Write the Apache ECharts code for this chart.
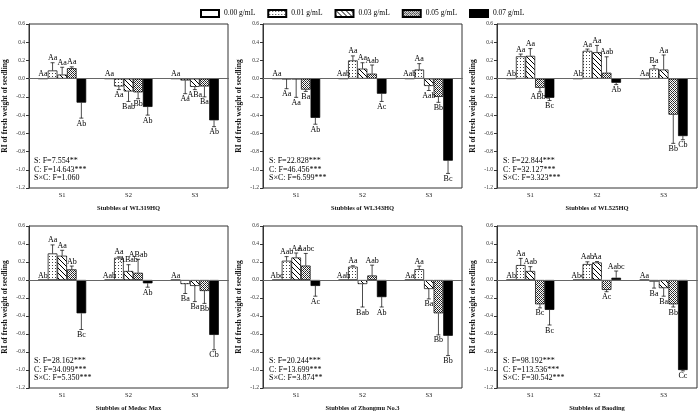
<!DOCTYPE html>
<html><head><meta charset="utf-8">
<script src="https://cdn.jsdelivr.net/npm/echarts@6/dist/echarts.min.js"></script>
<style>html,body{margin:0;padding:0;background:#fff}#c{width:700px;height:414px}</style>
</head><body><div id="c"></div>
<script>
// ---------------- data ----------------
const concentrations = ['0.00 g/mL', '0.01 g/mL', '0.03 g/mL', '0.05 g/mL', '0.07 g/mL'];
const stubbleCats = ['S1', 'S2', 'S3'];
const panelTitles = ['Stubbles of WL319HQ', 'Stubbles of WL343HQ', 'Stubbles of WL525HQ',
  'Stubbles of Medoc Max', 'Stubbles of Zhongmu No.3', 'Stubbles of Baoding'];
const yAxisTitle = 'RI of fresh weight of seedling';

// rows = S1,S2,S3 ; columns = 0.00,0.01,0.03,0.05,0.07 g/mL
const wl319Mean = [[0, 0.09, 0.045, 0.115, -0.263], [0, -0.085, -0.14, -0.15, -0.31], [0, -0.02, -0.09, -0.085, -0.457]];
const wl319Err = [[0, 0.085, 0.08, 0.015, 0.17], [0, 0.035, 0.11, 0.07, 0.09], [0, 0.145, 0.03, 0.115, 0.07]];
const wl319Letters = [['Aa', 'Aa', 'Aa', 'Aa', 'Ab'], ['Aa', 'Aa', 'Bab', 'Bb', 'Ab'], ['Aa', 'Aa', 'ABa', 'Ba', 'Ab']];
const wl319Stats = ['S: F=7.554**', 'C: F=14.643***', 'S×C: F=1.060'];

const wl343Mean = [[0, -0.005, -0.005, -0.12, -0.43], [0, 0.2, 0.11, 0.055, -0.165], [0, 0.1, -0.08, -0.2, -0.9]];
const wl343Err = [[0, 0.105, 0.2, 0.02, 0.07], [0, 0.05, 0.065, 0.095, 0.085], [0, 0.065, 0.05, 0.06, 0.14]];
const wl343Letters = [['Aa', 'Aa', 'Aa', 'Ba', 'Ab'], ['Aab', 'Aa', 'Aa', 'Aab', 'Ac'], ['Aab', 'Aa', 'Aab', 'Bb', 'Bc']];
const wl343Stats = ['S: F=22.828***', 'C: F=46.456***', 'S×C: F=6.599***'];

const wl525Mean = [[0, 0.245, 0.25, -0.1, -0.21], [0, 0.305, 0.29, 0.065, -0.045], [0, 0.11, 0.1, -0.395, -0.63]];
const wl525Err = [[0, 0.025, 0.08, 0.045, 0.03], [0, 0.02, 0.075, 0.175, 0.02], [0, 0.035, 0.16, 0.315, 0.04]];
const wl525Letters = [['Ab', 'Aa', 'Aa', 'ABbc', 'Bc'], ['Ab', 'Aa', 'Aa', 'Aab', 'Ab'], ['Aa', 'Ba', 'Aa', 'Bb', 'Cb']];
const wl525Stats = ['S: F=22.844***', 'C: F=32.127***', 'S×C: F=3.323***'];

const medocMean = [[0, 0.295, 0.27, 0.118, -0.37], [0, 0.247, 0.1, 0.08, -0.037], [0, -0.045, -0.066, -0.122, -0.61]];
const medocErr = [[0, 0.095, 0.06, 0.037, 0.18], [0, 0.01, 0.07, 0.15, 0.043], [0, 0.105, 0.174, 0.138, 0.165]];
const medocLetters = [['Ab', 'Aa', 'Aa', 'Ab', 'Bc'], ['Aab', 'Aa', 'ABab', 'ABab', 'Ab'], ['Aa', 'Ba', 'Ba', 'Bb', 'Cb']];
const medocStats = ['S: F=28.162***', 'C: F=34.099***', 'S×C: F=5.350***'];

const zhongmuMean = [[0, 0.214, 0.25, 0.16, -0.066], [0, 0.148, -0.045, 0.05, -0.19], [0, 0.12, -0.1, -0.37, -0.62]];
const zhongmuErr = [[0, 0.046, 0.05, 0.135, 0.114], [0, 0.01, 0.255, 0.115, 0.11], [0, 0.035, 0.11, 0.24, 0.22]];
const zhongmuLetters = [['Abc', 'Aab', 'Aa', 'Aabc', 'Ac'], ['Aab', 'Aa', 'Bab', 'Aab', 'Ab'], ['Aa', 'Aa', 'Ba', 'Bb', 'Bb']];
const zhongmuStats = ['S: F=20.244***', 'C: F=13.699***', 'S×C: F=3.874**'];

const baodingMean = [[0, 0.166, 0.1, -0.27, -0.332], [0, 0.177, 0.195, -0.11, 0.025], [0, -0.018, -0.09, -0.27, -1.0]];
const baodingErr = [[0, 0.074, 0.048, 0.04, 0.168], [0, 0.025, 0.01, 0.02, 0.075], [0, 0.072, 0.09, 0.03, 0.01]];
const baodingLetters = [['Ab', 'Aa', 'Aab', 'Bc', 'Bc'], ['Abc', 'Aab', 'Aa', 'Ac', 'Aabc'], ['Aa', 'Ba', 'Ba', 'Bb', 'Cc']];
const baodingStats = ['S: F=98.192***', 'C: F=113.536***', 'S×C: F=30.542***'];

const yMin = -1.2, yMax = 0.6, yStep = 0.2;

// ---------------- build ----------------
const panels = [
  { mean: wl319Mean, err: wl319Err, letters: wl319Letters, stats: wl319Stats },
  { mean: wl343Mean, err: wl343Err, letters: wl343Letters, stats: wl343Stats },
  { mean: wl525Mean, err: wl525Err, letters: wl525Letters, stats: wl525Stats },
  { mean: medocMean, err: medocErr, letters: medocLetters, stats: medocStats },
  { mean: zhongmuMean, err: zhongmuErr, letters: zhongmuLetters, stats: zhongmuStats },
  { mean: baodingMean, err: baodingErr, letters: baodingLetters, stats: baodingStats }
];

const FONT = 'Liberation Serif';
const BAR_W = 9.6;
const gridBoxes = [
  { left: 28, top: 24, width: 200, height: 164 },
  { left: 263, top: 24, width: 199, height: 164 },
  { left: 497, top: 24, width: 200, height: 164 },
  { left: 28, top: 226, width: 200, height: 162 },
  { left: 263, top: 226, width: 199, height: 162 },
  { left: 497, top: 226, width: 200, height: 162 }
];

function makePattern(size, draw) {
  const c = document.createElement('canvas');
  c.width = size; c.height = size;
  const ctx = c.getContext('2d');
  ctx.fillStyle = '#fff'; ctx.fillRect(0, 0, size, size);
  draw(ctx, size);
  return { image: c, repeat: 'repeat' };
}
const dotFill = makePattern(3, (ctx) => { ctx.fillStyle = '#444'; ctx.fillRect(1, 1, 1, 1); });
const hatchFill = makePattern(5, (ctx, s) => {
  ctx.fillStyle = '#000';
  for (let y = 0; y < s; y++) for (let x = 0; x < s; x++) if ((x - y + s) % s === 0) ctx.fillRect(x, y, 1, 1);
});
const crossFill = makePattern(4, (ctx, s) => {
  ctx.fillStyle = '#222';
  for (let y = 0; y < s; y++) for (let x = 0; x < s; x++) if ((x + y) % 4 === 0 || (x - y + 4) % 4 === 0) ctx.fillRect(x, y, 1, 1);
  ctx.fillStyle = '#777';
  for (let y = 0; y < s; y++) for (let x = 0; x < s; x++) if ((x + y) % 4 === 2 && (x - y + 4) % 4 === 2) ctx.fillRect(x, y, 1, 1);
});
const fills = ['#ffffff', dotFill, hatchFill, crossFill, '#000000'];

function errRenderer(mean, err, letters) {
  return function (params, api) {
    const di = params.dataIndex;
    const cat = Math.floor(di / 5), k = di % 5;
    const m = mean[cat][k], e = err[cat][k];
    const sgn = m < 0 ? -1 : 1;
    const p0 = api.coord([cat, m]);
    const p1 = api.coord([cat, m + sgn * e]);
    const x = p0[0] + (k - 2) * BAR_W;
    const children = [];
    if (e > 0) {
      children.push({ type: 'line', shape: { x1: x, y1: p0[1], x2: x, y2: p1[1] }, style: { stroke: '#000', lineWidth: 0.7 } });
      children.push({ type: 'line', shape: { x1: x - 2, y1: p1[1], x2: x + 2, y2: p1[1] }, style: { stroke: '#000', lineWidth: 0.7 } });
    }
    children.push({
      type: 'text', x: x, y: p1[1] + (sgn < 0 ? 1.5 : -0.5),
      style: { text: letters[cat][k], font: '8px "' + FONT + '"', fill: '#000', align: 'center', verticalAlign: sgn < 0 ? 'top' : 'bottom' }
    });
    return { type: 'group', children: children };
  };
}

const grid = [], xAxis = [], yAxis = [], series = [], graphic = [];
panels.forEach((p, gi) => {
  const box = gridBoxes[gi];
  grid.push(Object.assign({ show: true, borderColor: '#333', borderWidth: 1, backgroundColor: 'transparent' }, box));
  xAxis.push({
    type: 'category', gridIndex: gi, data: stubbleCats,
    axisLine: { show: true, lineStyle: { color: '#333', width: 1 } },
    axisTick: { show: false },
    axisLabel: { fontSize: 6.5, fontFamily: FONT, color: '#222', margin: 4 },
    name: panelTitles[gi], nameLocation: 'middle', nameGap: 17,
    nameTextStyle: { fontSize: 6.5, fontWeight: 'bold', fontFamily: FONT, color: '#111' }
  });
  yAxis.push({
    type: 'value', gridIndex: gi, min: yMin, max: yMax, interval: yStep,
    axisLine: { show: true, lineStyle: { color: '#333', width: 1 } },
    axisTick: { show: true, inside: false, length: 3, lineStyle: { color: '#333' } },
    splitLine: { show: false },
    axisLabel: {
      fontSize: 5.5, fontFamily: FONT, color: '#333', margin: 4,
      formatter: (v) => (Math.abs(v) < 1e-9 ? '0.0' : v.toFixed(1))
    },
    name: yAxisTitle, nameLocation: 'middle', nameGap: 20, nameRotate: 90,
    nameTextStyle: { fontSize: 7.5, fontWeight: 'bold', fontFamily: FONT, color: '#111' }
  });
  concentrations.forEach((cname, k) => {
    const s = {
      type: 'bar', name: cname, xAxisIndex: gi, yAxisIndex: gi,
      data: p.mean.map((row) => row[k]),
      barWidth: BAR_W, barGap: '0%',
      itemStyle: { color: fills[k], borderColor: '#000', borderWidth: 0.7 },
      animation: false, z: 2
    };
    if (k === 0) {
      s.markLine = {
        silent: true, symbol: ['none', 'none'], label: { show: false },
        lineStyle: { color: '#666', width: 1, type: 'solid' },
        data: [{ yAxis: 0 }], animation: false
      };
    }
    series.push(s);
  });
  const cdata = [];
  p.mean.forEach((row, ci) => row.forEach((v) => cdata.push([ci, v])));
  series.push({
    type: 'custom', xAxisIndex: gi, yAxisIndex: gi, data: cdata,
    renderItem: errRenderer(p.mean, p.err, p.letters), z: 5, animation: false, silent: true
  });
  graphic.push({
    type: 'text', left: box.left + 6, top: box.top + box.height - 31,
    style: { text: p.stats.join('\n'), font: '8px "' + FONT + '"', lineHeight: 8.4, fill: '#000' }
  });
});

const chart = echarts.init(document.getElementById('c'), null, { renderer: 'canvas' });
chart.setOption({
  animation: false,
  backgroundColor: '#fff',
  legend: {
    data: concentrations, top: 4, left: 195, itemWidth: 18, itemHeight: 7, itemGap: 12,
    icon: 'rect', textStyle: { fontSize: 7.5, fontFamily: FONT, color: '#000' }, selectedMode: false
  },
  grid: grid, xAxis: xAxis, yAxis: yAxis, series: series, graphic: graphic
});
</script></body></html>
